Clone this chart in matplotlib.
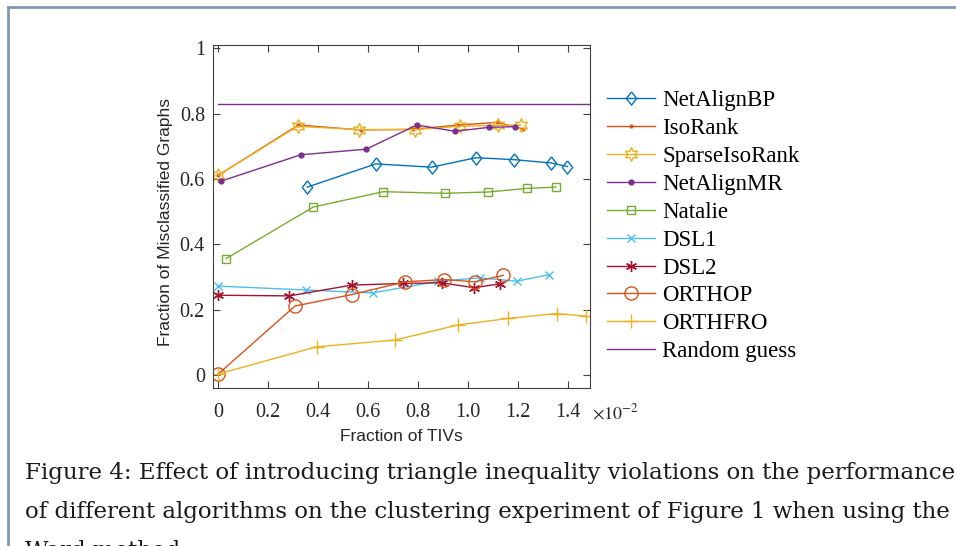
import matplotlib
matplotlib.use("Agg")
import matplotlib.pyplot as plt
from matplotlib.lines import Line2D

# x values are in units of 1e-2 (fraction of TIVs)
bp_x = [0.356, 0.63, 0.853, 1.031, 1.184, 1.331, 1.396]
bp_y = [0.575, 0.646, 0.636, 0.665, 0.659, 0.649, 0.638]

iso_x = [0.0, 0.32, 0.57, 0.78, 0.96, 1.115, 1.22]
iso_y = [0.611, 0.765, 0.750, 0.752, 0.765, 0.773, 0.753]

siso_x = [0.0, 0.317, 0.564, 0.787, 0.965, 1.117, 1.209]
siso_y = [0.611, 0.761, 0.751, 0.751, 0.761, 0.764, 0.765]

mr_x = [0.01, 0.33, 0.591, 0.794, 0.947, 1.084, 1.187]
mr_y = [0.593, 0.674, 0.691, 0.765, 0.746, 0.758, 0.760]

nat_x = [0.031, 0.38, 0.66, 0.907, 1.08, 1.233, 1.351]
nat_y = [0.356, 0.514, 0.561, 0.556, 0.560, 0.571, 0.575]

dsl1_x = [0.0, 0.351, 0.617, 0.88, 1.047, 1.193, 1.324]
dsl1_y = [0.272, 0.260, 0.251, 0.287, 0.297, 0.287, 0.307]

dsl2_x = [0.0, 0.284, 0.534, 0.74, 0.893, 1.023, 1.127]
dsl2_y = [0.244, 0.242, 0.275, 0.280, 0.282, 0.267, 0.279]

orthop_x = [0.0, 0.307, 0.534, 0.747, 0.904, 1.027, 1.14]
orthop_y = [0.003, 0.211, 0.246, 0.285, 0.292, 0.285, 0.305]

orthfro_x = [0.0, 0.393, 0.707, 0.96, 1.16, 1.354, 1.47]
orthfro_y = [0.003, 0.086, 0.107, 0.153, 0.173, 0.188, 0.180]

random_guess = 0.83

xticks = [0, 0.2, 0.4, 0.6, 0.8, 1.0, 1.2, 1.4]
xticklabels = ["0", "0.2", "0.4", "0.6", "0.8", "1.0", "1.2", "1.4"]
yticks = [0, 0.2, 0.4, 0.6, 0.8, 1.0]
yticklabels = ["0", "0.2", "0.4", "0.6", "0.8", "1"]

caption = [
    "Figure 4: Effect of introducing triangle inequality violations on the performance",
    "of different algorithms on the clustering experiment of Figure 1 when using the",
    "Ward method.",
]

W, H = 956, 546
fig = plt.figure(figsize=(W / 100, H / 100), dpi=100)
ax = fig.add_axes([213.3 / W, 1 - 388 / H, (590 - 213.3) / W, (388 - 45) / H])

# matlab style diamond, a bit taller than wide
diamond = [(0, 1), (0.78, 0), (0, -1), (-0.78, 0), (0, 1)]

series = [
    ("NetAlignBP", bp_x, bp_y, "#0072BD", dict(marker=diamond, ms=9.5, mfc="none")),
    ("IsoRank", iso_x, iso_y, "#D95319", dict(marker=".", ms=4)),
    ("SparseIsoRank", siso_x, siso_y, "#EDB120", dict(marker=(6, 1, 0), ms=10, mfc="none")),
    ("NetAlignMR", mr_x, mr_y, "#7E2F8E", dict(marker=".", ms=7)),
    ("Natalie", nat_x, nat_y, "#77AC30", dict(marker="s", ms=6, mfc="none")),
    ("DSL1", dsl1_x, dsl1_y, "#4DBEEE", dict(marker="x", ms=6)),
    ("DSL2", dsl2_x, dsl2_y, "#A2142F", dict(marker=(6, 2, 0), ms=8)),
    ("ORTHOP", orthop_x, orthop_y, "#D95319", dict(marker="o", ms=9.5, mfc="none")),
    ("ORTHFRO", orthfro_x, orthfro_y, "#EDB120", dict(marker="+", ms=10)),
]
for label, xs, ys, col, kw in series:
    ax.plot(xs, ys, color=col, mec=col, lw=1.0, mew=1.0, label=label, **kw)
ax.plot([0, 1.6], [random_guess, random_guess], color="#7E2F8E", lw=1.0,
        label="Random guess")

ax.set_xlim(-0.02, 1.487)
ax.set_ylim(-0.04, 1.01)
ax.set_xticks(xticks)
ax.set_xticklabels(xticklabels)
ax.set_yticks(yticks)
ax.set_yticklabels(yticklabels)
ax.tick_params(direction="in", top=True, right=True, length=5, width=0.8,
               color="#404040", labelsize=14.5)
ax.tick_params(axis="x", pad=11)
ax.tick_params(axis="y", pad=6)
for lab in ax.get_xticklabels() + ax.get_yticklabels():
    lab.set_family("Liberation Serif")
    lab.set_color("#262626")
for s in ax.spines.values():
    s.set_color("#404040")
    s.set_linewidth(0.8)

ax.set_xlabel("Fraction of TIVs", family="Liberation Sans", fontsize=12.5,
              color="#262626", labelpad=5)
ax.set_ylabel("Fraction of Misclassified Graphs", family="Liberation Sans",
              fontsize=12.5, color="#262626")
ax.yaxis.set_label_coords(-0.108, 0.484)
ax.text(1.005, -0.045, r"$\times10^{-2}$", transform=ax.transAxes,
        ha="left", va="top", fontsize=13, math_fontfamily="stix",
        color="#262626")

ax.legend(loc="upper left", bbox_to_anchor=(607 / W, 1 - 90 / H),
          bbox_transform=fig.transFigure, frameon=False, borderpad=0,
          borderaxespad=0, handlelength=2.1, handletextpad=0.3,
          labelspacing=0.3, prop={"family": "Liberation Serif", "size": 16.5})

# page border
fig.add_artist(Line2D([7.5 / W, 1], [1 - 6.5 / H, 1 - 6.5 / H],
                      transform=fig.transFigure, color="#7f99b5", lw=2))
fig.add_artist(Line2D([7.5 / W, 7.5 / W], [0, 1 - 6.5 / H],
                      transform=fig.transFigure, color="#7f99b5", lw=2))

for i, line in enumerate(caption):
    fig.text(25 / W, 1 - (479 + 39 * i) / H, line, family="DejaVu Serif",
             fontsize=16.5, color="#1a1a1a", ha="left", va="baseline")

fig.savefig("out.png", dpi=100)
